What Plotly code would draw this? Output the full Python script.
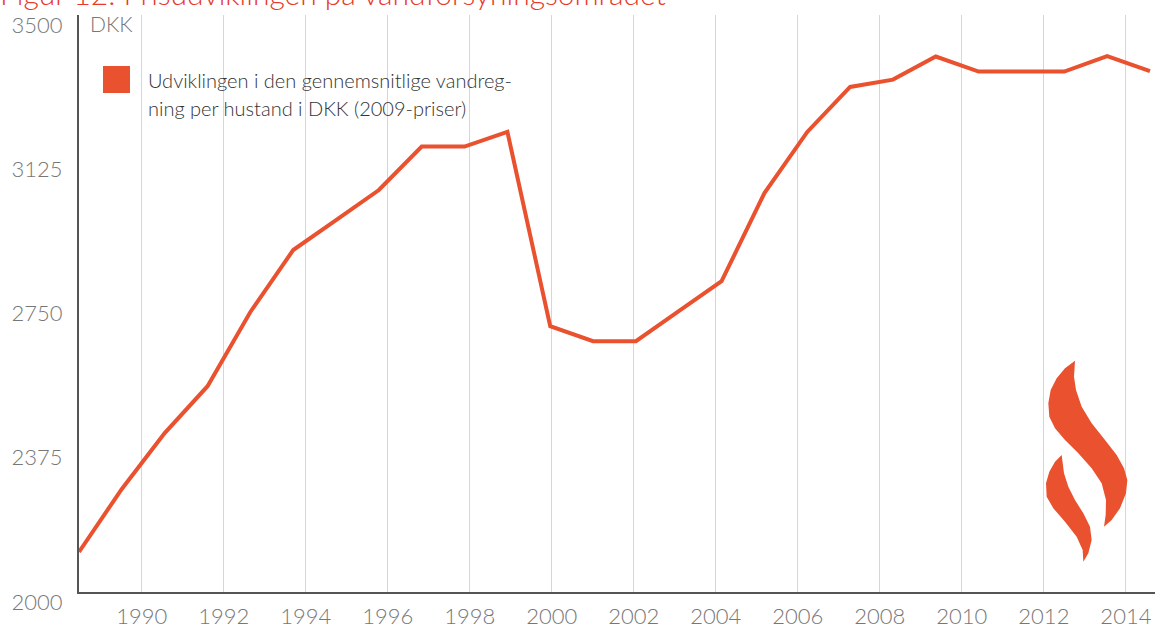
import plotly.graph_objects as go

# Average water bill per household, DKK (2009 prices)
years = list(range(1989, 2015))
dkk = [2104, 2268, 2413, 2535, 2728, 2889, 2967, 3045, 3158, 3158,
       3196, 2691, 2652, 2652, 2730, 2808, 3037, 3196, 3313, 3332,
       3392, 3353, 3353, 3353, 3393, 3354]

y_ticks = [2000, 2375, 2750, 3125, 3500]
x_ticks = list(range(1990, 2016, 2))

W, H = 1158, 628
L, R, T, B = 79, 3, 15, 36
orange = "#E9512F"
grey = "#777777"
font = "Lato"


def px(x, y):
    # pixel -> paper coords
    return (x - L) / (W - L - R), (H - B - y) / (H - T - B)


def path(pts):
    p = [px(1020 + a / 3, 340 + b / 3) for a, b in pts]
    return "M " + " L ".join(f"{u:.5f},{v:.5f}" for u, v in p) + " Z"


flame_big = [(165, 62), (135, 85), (110, 115), (92, 150), (85, 190), (88, 230),
             (105, 265), (135, 300), (175, 340), (215, 385), (245, 430),
             (258, 480), (257, 525), (252, 560), (275, 540), (300, 505),
             (318, 460), (322, 420), (312, 385), (290, 345), (255, 300),
             (215, 250), (185, 200), (168, 150), (162, 110)]
flame_small = [(125, 345), (105, 365), (88, 395), (78, 430), (80, 470),
               (100, 505), (135, 545), (170, 590), (188, 630), (190, 665),
               (205, 640), (215, 600), (210, 560), (190, 520), (165, 480),
               (145, 440), (132, 400)]

fig = go.Figure()
fig.add_trace(go.Scatter(x=years, y=dkk, mode="lines",
                         line=dict(color=orange, width=4), hoverinfo="x+y"))
# dummy trace so the label axis gets drawn
fig.add_trace(go.Scatter(x=[2000], y=[2000], xaxis="x2", mode="markers",
                         marker=dict(opacity=0), hoverinfo="skip"))

fig.update_layout(
    width=W, height=H,
    margin=dict(l=L, r=R, t=T, b=B, autoexpand=False),
    plot_bgcolor="white", paper_bgcolor="white",
    showlegend=False,
    xaxis=dict(range=[1989, 2014.117], visible=False, automargin=False),
    xaxis2=dict(range=[1988.47, 2014.71], overlaying="x", side="bottom",
                tickvals=x_ticks, ticktext=[str(t) for t in x_ticks],
                showgrid=True, gridcolor="#d6d6d6", gridwidth=1,
                showline=True, linecolor="#555555", linewidth=2,
                ticks="", ticklabelstandoff=4, automargin=False,
                ticklabeloverflow="allow",
                tickfont=dict(family=font, size=22, color=grey, weight=300),
                zeroline=False),
    yaxis=dict(range=[2000, 3500], tickvals=y_ticks,
               showgrid=False, zeroline=False, automargin=False,
               showline=True, linecolor="#555555", linewidth=2,
               ticks="", ticklabelshift=10, ticklabelstandoff=10,
               ticklabeloverflow="allow",
               tickfont=dict(family=font, size=22, color=grey, weight=300)),
)

# clipped title at the very top
fig.add_annotation(xref="paper", yref="paper", x=px(-2, 0)[0], y=px(0, 13)[1],
                   xanchor="left", yanchor="bottom", showarrow=False,
                   text="Figur 12: Prisudviklingen på vandforsyningsområdet",
                   font=dict(family=font, size=30, color="#E8392B", weight=300))

fig.add_annotation(xref="paper", yref="paper", x=px(88, 0)[0], y=px(0, 24)[1],
                   xanchor="left", yanchor="middle", showarrow=False,
                   text="DKK", font=dict(family=font, size=21, color=grey, weight=300))

# legend box
x0, y0 = px(103, 93)
x1, y1 = px(130, 66)
fig.add_shape(type="rect", xref="paper", yref="paper", x0=x0, y0=y0, x1=x1, y1=y1,
              fillcolor=orange, line=dict(width=0))
for txt, yy in [("Udviklingen i den gennemsnitlige vandreg-", 80),
                ("ning per hustand i DKK (2009-priser)", 108)]:
    fig.add_annotation(xref="paper", yref="paper", x=px(146, 0)[0], y=px(0, yy)[1],
                       xanchor="left", yanchor="middle", showarrow=False, text=txt,
                       font=dict(family=font, size=20, color="#333333", weight=300))

# flame logo
for pts in (flame_big, flame_small):
    fig.add_shape(type="path", xref="paper", yref="paper", path=path(pts),
                  fillcolor=orange, line=dict(width=0))

fig.write_html("out.html", config={"displayModeBar": False},
               post_script="document.body.style.margin='0';")
